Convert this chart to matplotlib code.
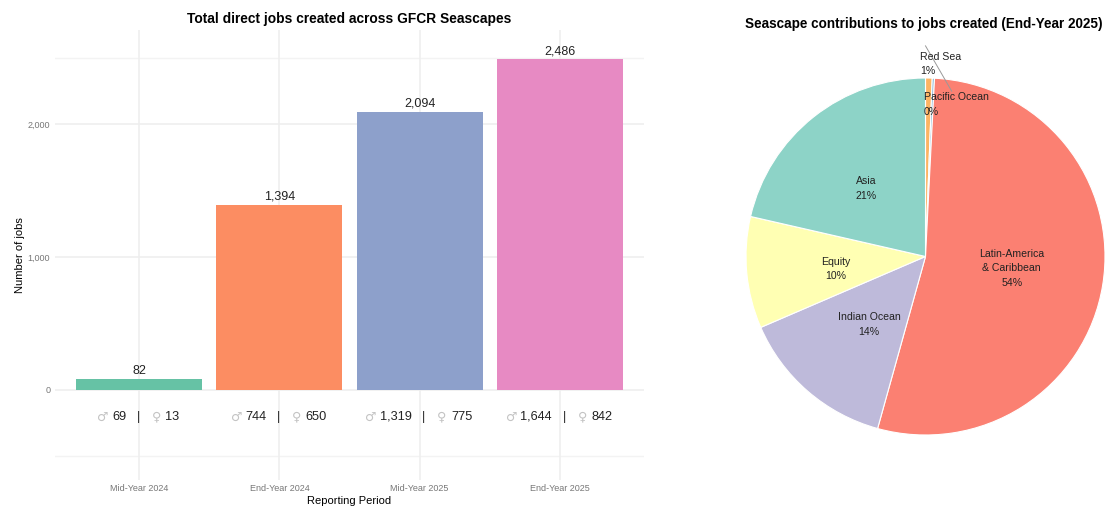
import numpy as np
import matplotlib.pyplot as plt

periodos = ['Mid-Year 2024', 'End-Year 2024', 'Mid-Year 2025', 'End-Year 2025']
empleos = [82, 1394, 2094, 2486]
hombres = [69, 744, 1319, 1644]
mujeres = [13, 650, 775, 842]
colores_barras = ['#66c2a5', '#fc8d62', '#8da0cb', '#e78ac3']

regiones = ['Red Sea', 'Pacific Ocean', 'Latin-America\n& Caribbean', 'Indian Ocean', 'Equity', 'Asia']
porcentajes = [0.6, 0.2, 53.5, 14.2, 10.1, 21.4]
colores_pie = ['#fdb462', '#80b1d3', '#fb8072', '#bebada', '#ffffb3', '#8dd3c7']

plt.rcParams['font.family'] = ['Liberation Sans', 'DejaVu Sans']

fig = plt.figure(figsize=(11.07, 5.09), dpi=100)
W, H = 1107, 509
renderer = fig.canvas.get_renderer()

# panel de barras
ax = fig.add_axes([55 / W, 1 - 480 / H, 589 / W, 450 / H])
x = np.arange(len(periodos))
ax.bar(x, empleos, width=0.9, color=colores_barras, zorder=3)
ax.set_xlim(-0.6, 3.6)
ax.set_ylim(-677, 2707)
ax.set_xticks(x)
ax.set_xticklabels(periodos)
ax.set_yticks([0, 1000, 2000])
ax.set_yticklabels(['0', '1,000', '2,000'])
ax.tick_params(length=0, labelsize=6.5, labelcolor='#777777')
ax.tick_params(axis='x', pad=3)
ax.grid(True, color='#eeeeee', lw=1.1, zorder=0)
for nivel in [-500, 2500]:
    ax.axhline(nivel, color='#f3f3f3', lw=1.0, zorder=0)
for lado in ax.spines.values():
    lado.set_visible(False)
ax.set_title('Total direct jobs created across GFCR Seascapes', fontsize=9.9, fontweight='bold', pad=5)
ax.set_xlabel('Reporting Period', fontsize=8, labelpad=2)
ax.set_ylabel('Number of jobs', fontsize=8, labelpad=2)


def texto_fila(i, s, color='#222222', fontsize=9.2, family=None):
    # texto de la fila de desglose, colocado luego en pixeles respecto a la barra
    return ax.annotate(s, xy=(x[i], -203), xytext=(0, 0), textcoords='offset pixels', ha='left', va='center',
                       fontsize=fontsize, color=color, family=family)


for i in range(len(periodos)):
    ax.text(x[i], empleos[i] + 15, f'{empleos[i]:,}', ha='center', va='bottom', fontsize=9, color='#222222', zorder=4)

    # desglose por sexo debajo de cada barra, centrado como un solo renglon
    t_h = texto_fila(i, f'{hombres[i]:,}')
    t_m = texto_fila(i, f'{mujeres[i]:,}')
    w_h = t_h.get_window_extent(renderer).width
    w_m = t_m.get_window_extent(renderer).width
    inicio = -(13 + w_h + 12 + 27 + w_m) / 2
    barra = inicio + 13 + w_h + 12
    t_h.xyann = (inicio + 13, 0)
    t_m.xyann = (barra + 27, 0)
    s_h = texto_fila(i, '♂', color='#c4c4c4', family='DejaVu Sans')
    s_h.set_ha('center')
    s_h.xyann = (inicio + 4, 0)
    s_m = texto_fila(i, '♀', color='#c4c4c4', family='DejaVu Sans')
    s_m.set_ha('center')
    s_m.xyann = (barra + 18, 0)
    sep = texto_fila(i, '|')
    sep.set_ha('center')
    sep.xyann = (barra, 0)

# panel de sectores
ax2 = fig.add_axes([746 / W, 1 - 435 / H, 359 / W, 357 / H])
ax2.pie(porcentajes, colors=colores_pie, startangle=90, counterclock=False, radius=1,
        wedgeprops=dict(edgecolor='white', linewidth=0.8))
ax2.set_xlim(-1, 1)
ax2.set_ylim(-1, 1)
ax2.set_aspect('auto')

pos_etiquetas = [(-0.03, 1.08), (-0.01, 0.852), (0.48, -0.065), (-0.315, -0.38), (-0.50, -0.07), (-0.33, 0.38)]
alineacion = ['left', 'left', 'center', 'center', 'center', 'center']
for nombre, pct, pos, al in zip(regiones, porcentajes, pos_etiquetas, alineacion):
    ax2.text(pos[0], pos[1], f'{nombre}\n{pct:.0f}%', ha=al, va='center', multialignment=al, fontsize=7.6,
             color='#222222', linespacing=1.55, clip_on=False)
# guia de la etiqueta de Red Sea
ax2.plot([0.0, 0.146], [1.18, 0.926], color='#999999', lw=0.7, clip_on=False)
fig.text(924 / W, 1 - 24 / H, 'Seascape contributions to jobs created (End-Year 2025)', ha='center', va='center',
         fontsize=9.75, fontweight='bold')

fig.savefig('out.png', dpi=100)
